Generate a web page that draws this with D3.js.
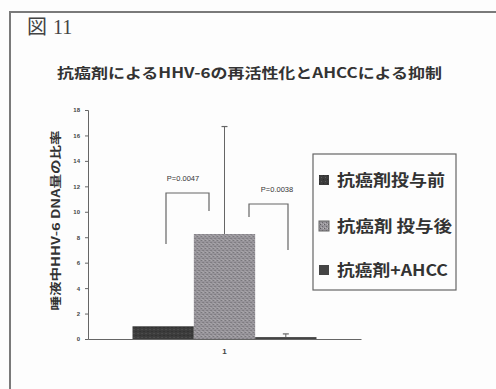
<!DOCTYPE html>
<html>
<head>
<meta charset="utf-8">
<script src="https://cdn.jsdelivr.net/npm/d3@7"></script>
<style>
  html, body { margin: 0; padding: 0; background: #fdfdfd; }
  svg { display: block; }
</style>
</head>
<body>
<svg id="chart" width="496" height="389"></svg>
<script>
// Chart data
const categories = ["1"];
const seriesNames = ["抗癌剤投与前", "抗癌剤 投与後", "抗癌剤+AHCC"];
const seriesValues = [1.0, 8.25, 0.15];
const errorTops = [null, 16.7, 0.4];
const yTicks = [0, 2, 4, 6, 8, 10, 12, 14, 16, 18];
const pLabels = ["P=0.0047", "P=0.0038"];
const figureLabel = "図 11";
const chartTitle = "抗癌剤によるHHV-6の再活性化とAHCCによる抑制";
const yAxisTitle = "唾液中HHV-6 DNA量の比率";

const svg = d3.select("#chart");
const ink = "#333";

// Fill patterns for the bars
const defs = svg.append("defs");
const p1 = defs.append("pattern").attr("id", "fillDark")
  .attr("width", 4).attr("height", 4).attr("patternUnits", "userSpaceOnUse");
p1.append("rect").attr("width", 4).attr("height", 4).attr("fill", "#3c3c3c");
p1.append("rect").attr("x", 1).attr("y", 1).attr("width", 1).attr("height", 1).attr("fill", "#5a5a5a");
p1.append("rect").attr("x", 3).attr("y", 3).attr("width", 1).attr("height", 1).attr("fill", "#2a2a2a");

const p2 = defs.append("pattern").attr("id", "fillDots")
  .attr("width", 4).attr("height", 4).attr("patternUnits", "userSpaceOnUse");
p2.append("rect").attr("width", 4).attr("height", 4).attr("fill", "#97949a");
p2.append("rect").attr("x", 0).attr("y", 0).attr("width", 1).attr("height", 1).attr("fill", "#5e5c60");
p2.append("rect").attr("x", 2).attr("y", 2).attr("width", 1).attr("height", 1).attr("fill", "#6a686c");
p2.append("rect").attr("x", 3).attr("y", 0).attr("width", 1).attr("height", 1).attr("fill", "#bbb9bc");
p2.append("rect").attr("x", 1).attr("y", 3).attr("width", 1).attr("height", 1).attr("fill", "#b3b1b4");

const fills = ["url(#fillDark)", "url(#fillDots)", "#444"];

// Outer frame
svg.append("path")
  .attr("d", "M10,389 L10,12 L496,12")
  .attr("fill", "none").attr("stroke", "#7a7a7a").attr("stroke-width", 2);

// Figure label
const fig = svg.append("text").attr("x", 27).attr("y", 34)
  .attr("fill", "#444").attr("font-size", 20);
fig.append("tspan").attr("font-family", "Noto Sans CJK JP").text(figureLabel.split(" ")[0]);
fig.append("tspan").attr("dx", 6).attr("font-family", "Liberation Serif").text(figureLabel.split(" ")[1]);

// Chart title
svg.append("text")
  .attr("x", 57).attr("y", 78)
  .attr("font-family", "Noto Sans CJK JP").attr("font-weight", "bold")
  .attr("font-size", 14).attr("fill", ink)
  .attr("textLength", 385).attr("lengthAdjust", "spacingAndGlyphs")
  .text(chartTitle);

// Scales
const x0 = d3.scaleBand().domain(categories).range([88, 361]).paddingOuter(0.242).paddingInner(0);
const x1 = d3.scaleBand().domain(seriesNames).range([0, x0.bandwidth()]);
const y = d3.scaleLinear().domain([0, 18]).range([339, 110]);

// Y axis
const yAxis = svg.append("g").attr("transform", "translate(88,0)")
  .call(d3.axisLeft(y).tickValues(yTicks).tickSize(3).tickPadding(5));
yAxis.select(".domain").attr("stroke", "#666");
yAxis.selectAll(".tick line").attr("stroke", "#666");
yAxis.selectAll(".tick text")
  .attr("font-family", "Liberation Sans").attr("font-weight", "bold")
  .attr("font-size", 6).attr("fill", "#444");

// X axis
const xAxis = svg.append("g").attr("transform", "translate(0,339)")
  .call(d3.axisBottom(x0).tickSize(0).tickPadding(9));
xAxis.select(".domain").attr("stroke", "#666");
xAxis.selectAll(".tick text")
  .attr("font-family", "Liberation Sans").attr("font-weight", "bold")
  .attr("font-size", 8).attr("fill", "#444");

// Y axis title
svg.append("text")
  .attr("transform", `translate(60,${(110 + 339) / 2 - 4}) rotate(-90)`)
  .attr("text-anchor", "middle")
  .attr("font-family", "Noto Sans CJK JP").attr("font-weight", "bold")
  .attr("font-size", 11).attr("fill", ink)
  .attr("textLength", 180).attr("lengthAdjust", "spacingAndGlyphs")
  .text(yAxisTitle);

// Bars
const barData = seriesNames.map((name, i) => ({ name, value: seriesValues[i], err: errorTops[i], i }));
const g = svg.append("g").attr("transform", `translate(${x0(categories[0])},0)`);
g.selectAll("rect.bar").data(barData).join("rect")
  .attr("class", "bar")
  .attr("x", d => x1(d.name))
  .attr("y", d => y(d.value))
  .attr("width", x1.bandwidth())
  .attr("height", d => y(0) - y(d.value))
  .attr("fill", d => fills[d.i]);

// Error bars
const errs = barData.filter(d => d.err !== null);
g.selectAll("line.err").data(errs).join("line")
  .attr("class", "err")
  .attr("x1", d => x1(d.name) + x1.bandwidth() / 2)
  .attr("x2", d => x1(d.name) + x1.bandwidth() / 2)
  .attr("y1", d => y(d.value)).attr("y2", d => y(d.err))
  .attr("stroke", "#666").attr("stroke-width", 1);
g.selectAll("line.cap").data(errs).join("line")
  .attr("class", "cap")
  .attr("x1", d => x1(d.name) + x1.bandwidth() / 2 - 3)
  .attr("x2", d => x1(d.name) + x1.bandwidth() / 2 + 3)
  .attr("y1", d => y(d.err)).attr("y2", d => y(d.err))
  .attr("stroke", "#666").attr("stroke-width", 1.2);

// Significance brackets
const brackets = [
  { label: pLabels[0], x1: 166, x2: 209, top: 193, yl: 244, yr: 211, tx: 183, ty: 181 },
  { label: pLabels[1], x1: 249, x2: 288, top: 204, yl: 217, yr: 250, tx: 277, ty: 192 }
];
const pGroup = svg.append("g").attr("opacity", 0.99);
brackets.forEach(b => {
  svg.append("path")
    .attr("d", `M${b.x1},${b.yl} L${b.x1},${b.top} L${b.x2},${b.top} L${b.x2},${b.yr}`)
    .attr("fill", "none").attr("stroke", "#666").attr("stroke-width", 1.2);
  pGroup.append("text").attr("x", b.tx).attr("y", b.ty)
    .attr("text-anchor", "middle")
    .attr("font-family", "Liberation Sans").attr("font-size", 7.5)
    .attr("fill", "#333").text(b.label);
});

// Legend
const legend = svg.append("g");
legend.append("rect").attr("x", 313).attr("y", 154).attr("width", 143).attr("height", 136)
  .attr("fill", "#fdfdfd").attr("stroke", "#666").attr("stroke-width", 1.2);
const legendY = [180, 226, 270];
const legendW = [108, 115, 111];
seriesNames.forEach((name, i) => {
  legend.append("rect").attr("x", 319).attr("y", legendY[i] - 5).attr("width", 10).attr("height", 10)
    .attr("fill", fills[i]).attr("stroke", i === 1 ? "#666" : "none");
  legend.append("text").attr("x", 337).attr("y", legendY[i] + 6)
    .attr("font-family", "Noto Sans CJK JP").attr("font-weight", "bold")
    .attr("font-size", 16).attr("fill", ink)
    .attr("textLength", legendW[i]).attr("lengthAdjust", "spacingAndGlyphs")
    .text(name);
});
</script>
</body>
</html>
